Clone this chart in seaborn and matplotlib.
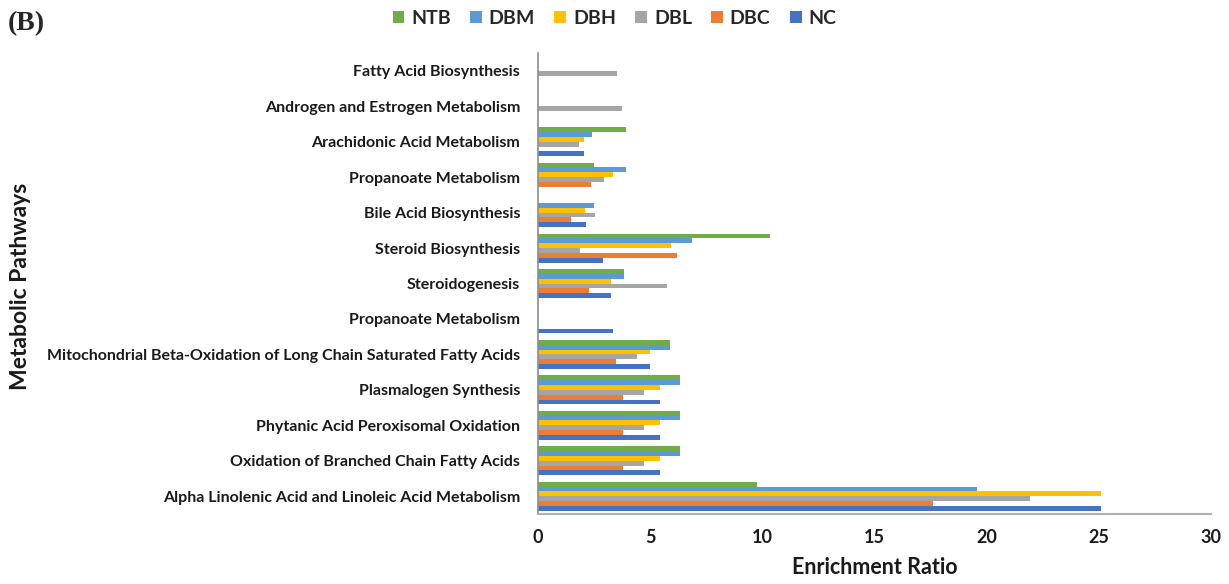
import matplotlib
matplotlib.use("Agg")
import matplotlib.pyplot as plt
from matplotlib.patches import Patch
import seaborn as sns
import pandas as pd
import numpy as np

pathways = [
    "Fatty Acid Biosynthesis",
    "Androgen and Estrogen Metabolism",
    "Arachidonic Acid Metabolism",
    "Propanoate Metabolism",
    "Bile Acid Biosynthesis",
    "Steroid Biosynthesis",
    "Steroidogenesis",
    "Propanoate Metabolism",
    "Mitochondrial Beta-Oxidation of Long Chain Saturated Fatty Acids",
    "Plasmalogen Synthesis",
    "Phytanic Acid Peroxisomal Oxidation",
    "Oxidation of Branched Chain Fatty Acids",
    "Alpha Linolenic Acid and Linoleic Acid Metabolism",
]
groups = ["NTB", "DBM", "DBH", "DBL", "DBC", "NC"]
colors = ["#70AD47", "#5B9BD5", "#FFC000", "#A5A5A5", "#ED7D31", "#4472C4"]

NTB = [0, 0, 3.92, 2.50, 0, 10.34, 3.82, 0, 5.88, 6.33, 6.33, 6.33, 9.75]
DBM = [0, 0, 2.41, 3.92, 2.50, 6.87, 3.82, 0, 5.88, 6.33, 6.33, 6.33, 19.55]
DBH = [0, 0, 2.07, 3.36, 2.11, 5.93, 3.25, 0, 5.01, 5.42, 5.42, 5.42, 25.1]
DBL = [3.51, 3.76, 1.81, 2.93, 2.56, 1.87, 5.74, 0, 4.40, 4.74, 4.74, 4.74, 21.95]
DBC = [0, 0, 0, 2.35, 1.47, 6.21, 2.27, 0, 3.49, 3.79, 3.79, 3.79, 17.62]
NC = [0, 0, 2.07, 0, 2.12, 2.91, 3.25, 3.34, 5.01, 5.42, 5.42, 5.42, 25.1]

series = dict(zip(groups, [NTB, DBM, DBH, DBL, DBC, NC]))
rows = []
for g, vals in series.items():
    for i, v in enumerate(vals):
        rows.append({"slot": str(i), "group": g, "ratio": v})
df = pd.DataFrame(rows)
slots = [str(i) for i in range(len(pathways))]

sns.set_theme(style="white")
plt.rcParams["font.family"] = ["Lato", "DejaVu Sans"]

fig = plt.figure(figsize=(12.29, 5.84), dpi=100)
ax = fig.add_axes([0.4378, 0.1199, 0.5475, 0.7893])

sns.barplot(data=df, y="slot", x="ratio", hue="group", order=slots,
            hue_order=groups, palette=colors, orient="h", width=0.82,
            saturation=1, ax=ax, legend=False, errorbar=None, linewidth=0)

ax.set_xlim(0, 30)
ax.set_ylim(len(pathways) - 0.5, -0.5)
ax.set_xticks([0, 5, 10, 15, 20, 25, 30])
ax.set_xticklabels(["0", "5", "10", "15", "20", "25", "30"],
                   fontsize=13, fontweight="bold", color="#1a1a1a")
ax.tick_params(axis="x", length=0, pad=11)

ax.set_yticks(np.arange(-0.5, len(pathways), 1.0))
ax.set_yticklabels([])
ax.tick_params(axis="y", which="major", length=5, width=1.2, color="#404040", direction="out")
ax.set_yticks(np.arange(len(pathways)), minor=True)
ax.set_yticklabels(pathways, minor=True, fontsize=11.5, fontweight="bold", color="#1a1a1a")
ax.tick_params(axis="y", which="minor", length=0, pad=13)

for s in ["top", "right"]:
    ax.spines[s].set_visible(False)
ax.spines["left"].set_color("#8c8c8c")
ax.spines["bottom"].set_color("#b0b0b0")
ax.spines["left"].set_linewidth(1.2)
ax.spines["bottom"].set_linewidth(1.5)

ax.set_xlabel("Enrichment Ratio", fontsize=15.5, fontweight="bold", color="#1a1a1a", labelpad=8)
ax.set_ylabel("")
fig.text(0.017, 0.51, "Metabolic Pathways", rotation=90, ha="center", va="center",
         fontsize=16.5, fontweight="bold", color="#1a1a1a")

handles = [Patch(facecolor=c, edgecolor="none", label=g) for g, c in zip(groups, colors)]
fig.legend(handles=handles, loc="center", bbox_to_anchor=(0.50, 0.969), ncol=6,
           frameon=False, prop={"weight": "bold", "size": 14},
           handlelength=0.6, handleheight=0.6, handletextpad=0.35, columnspacing=1.0)

fig.text(0.006, 0.96, "(B)", fontsize=20, fontweight="bold",
         family=["Liberation Serif", "DejaVu Serif"], va="center", ha="left")

fig.savefig("out.png", dpi=100)
